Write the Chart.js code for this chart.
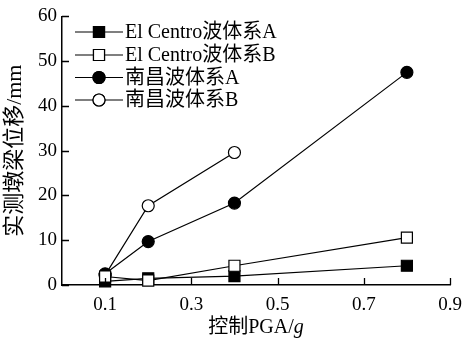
<!DOCTYPE html>
<html>
<head>
<meta charset="utf-8">
<script src="https://cdn.jsdelivr.net/npm/chart.js@4/dist/chart.umd.min.js"></script>
<style>
html,body{margin:0;padding:0;background:#fff;}
#wrap{width:465px;height:343px;}
</style>
</head>
<body>
<div id="wrap"><canvas id="c" width="465" height="343"></canvas></div>
<script>
const pga = [0.1, 0.2, 0.4, 0.8];
const pgaB = [0.1, 0.2, 0.4];
const elCentroA = [0.8, 1.5, 2.0, 4.3];
const elCentroB = [1.9, 1.0, 4.3, 10.6];
const nanchangA = [2.5, 9.7, 18.3, 47.5];
const nanchangB = [2.2, 17.7, 29.6];
const seriesNames = ['El Centro波体系A', 'El Centro波体系B', '南昌波体系A', '南昌波体系B'];
const xTicks = [0.1, 0.3, 0.5, 0.7, 0.9];
const yTicks = [0, 10, 20, 30, 40, 50, 60];
const xTitleMain = '控制PGA/';
const xTitleItalic = 'g';
const yTitle = '实测墩梁位移/mm';

const FONT = '"Liberation Serif", "Times New Roman", "Noto Sans CJK SC", serif';

function pts(xs, ys){ return xs.map((x,i)=>({x:x, y:ys[i]})); }

const styles = [
  {pointStyle:'rect', fill:'#000', r:7.8},
  {pointStyle:'rect', fill:'#fff', r:7.8},
  {pointStyle:'circle', fill:'#000', r:6},
  {pointStyle:'circle', fill:'#fff', r:6}
];
const dataSets = [pts(pga, elCentroA), pts(pga, elCentroB), pts(pga, nanchangA), pts(pgaB, nanchangB)];
const orders = [1, 0, 2, 3];

const datasets = dataSets.map((d,i)=>({
  label: seriesNames[i],
  data: d,
  borderColor:'#000',
  borderWidth:1.2,
  backgroundColor: styles[i].fill,
  pointStyle: styles[i].pointStyle,
  pointRadius: styles[i].r,
  pointBorderColor:'#000',
  pointBorderWidth:1.2,
  pointBackgroundColor: styles[i].fill,
  tension:0,
  fill:false,
  clip:false,
  order: orders[i]
}));

const legendAndTicks = {
  id:'legendAndTicks',
  afterDraw(chart){
    const ctx = chart.ctx;
    const xs = chart.scales.x, ys = chart.scales.y;
    ctx.save();
    ctx.strokeStyle = '#000';
    ctx.lineWidth = 1.3;
    // inward tick marks
    ctx.beginPath();
    xTicks.forEach(v=>{
      const px = Math.round(xs.getPixelForValue(v)) + 0.5;
      ctx.moveTo(px, ys.bottom);
      ctx.lineTo(px, ys.bottom - 7);
    });
    yTicks.forEach(v=>{
      const py = Math.round(ys.getPixelForValue(v)) + 0.5;
      ctx.moveTo(xs.left, py);
      ctx.lineTo(xs.left + 7, py);
    });
    ctx.stroke();
    // x title with italic g
    ctx.fillStyle = '#000';
    ctx.textBaseline = 'middle';
    const fMain = '20px ' + FONT, fIt = 'italic 20px ' + FONT;
    ctx.font = fMain; const w1 = ctx.measureText(xTitleMain).width;
    ctx.font = fIt; const w2 = ctx.measureText(xTitleItalic).width;
    const cx = (xs.left + xs.right) / 2;
    const x0 = cx - (w1 + w2) / 2;
    ctx.textAlign = 'left';
    ctx.font = fMain; ctx.fillText(xTitleMain, x0, 328);
    ctx.font = fIt; ctx.fillText(xTitleItalic, x0 + w1, 328);
    // legend
    const rowY = [32, 55, 77.5, 100];
    ctx.font = '20px ' + FONT;
    seriesNames.forEach((name,i)=>{
      const y = rowY[i];
      ctx.lineWidth = 1.2;
      ctx.beginPath();
      ctx.moveTo(75, y); ctx.lineTo(123, y);
      ctx.stroke();
      Chart.helpers.drawPoint(ctx, {
        pointStyle: styles[i].pointStyle, radius: styles[i].r, rotation:0, borderWidth:1.2
      }, 99, y);
      ctx.fillStyle = styles[i].fill;
      ctx.fill();
      ctx.stroke();
      ctx.fillStyle = '#000';
      ctx.fillText(name, 125, y + 1);
    });
    ctx.restore();
  }
};

new Chart(document.getElementById('c'), {
  type:'line',
  data:{datasets},
  options:{
    responsive:false,
    animation:false,
    devicePixelRatio:1,
    layout:{padding:{top:13, right:15, left:0, bottom:0}},
    plugins:{legend:{display:false}, tooltip:{enabled:false}},
    scales:{
      x:{
        type:'linear', min:0, max:0.9,
        afterBuildTicks(s){ s.ticks = xTicks.map(v=>({value:v})); },
        afterFit(s){ s.height = 58; s.paddingRight = 0; s.paddingLeft = 0; },
        grid:{display:false, drawTicks:false},
        border:{display:true, color:'#000', width:1.5},
        ticks:{color:'#000', padding:9, font:{family:FONT, size:19}, maxRotation:0,
          callback:(v)=>Number(v).toFixed(1)},
        title:{display:false}
      },
      y:{
        type:'linear', min:0, max:60,
        afterBuildTicks(s){ s.ticks = yTicks.map(v=>({value:v})); },
        afterFit(s){ s.width = 62; },
        grid:{display:false, drawTicks:false},
        border:{display:true, color:'#000', width:1.5},
        ticks:{color:'#000', padding:5, font:{family:FONT, size:19}},
        title:{display:true, text:yTitle, color:'#000', font:{family:FONT, size:22}, padding:{top:2,bottom:0}}
      }
    }
  },
  plugins:[legendAndTicks]
});
</script>
</body>
</html>
